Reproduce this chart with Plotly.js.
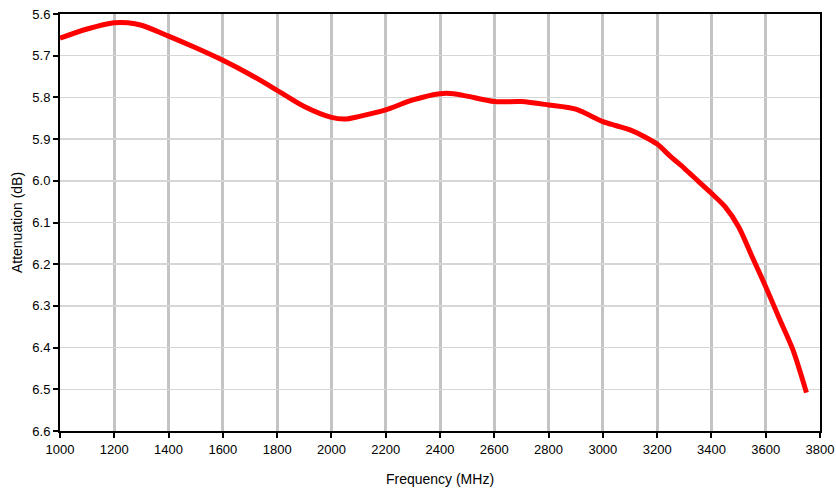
<!DOCTYPE html>
<html>
<head>
<meta charset="utf-8">
<script src="https://cdn.plot.ly/plotly-3.0.1.min.js"></script>
<style>html,body{margin:0;padding:0;background:#fff;}#chart{width:836px;height:493px;}</style>
</head>
<body>
<div id="chart"></div>
<script>
const frequency = [1000, 1100, 1200, 1250, 1300, 1400, 1500, 1600, 1700, 1800, 1900, 2000, 2050, 2100, 2200, 2300, 2400, 2450, 2500, 2600, 2700, 2800, 2900, 3000, 3050, 3100, 3150, 3200, 3250, 3300, 3350, 3400, 3450, 3500, 3550, 3600, 3650, 3700, 3750];
const attenuation = [5.658, 5.636, 5.621, 5.621, 5.627, 5.653, 5.681, 5.711, 5.745, 5.783, 5.822, 5.848, 5.852, 5.846, 5.830, 5.806, 5.791, 5.791, 5.797, 5.810, 5.810, 5.818, 5.828, 5.858, 5.868, 5.878, 5.893, 5.912, 5.942, 5.970, 6.000, 6.030, 6.062, 6.110, 6.182, 6.254, 6.330, 6.405, 6.508];
const xTicks = [1000, 1200, 1400, 1600, 1800, 2000, 2200, 2400, 2600, 2800, 3000, 3200, 3400, 3600, 3800];
const yTicks = [5.6, 5.7, 5.8, 5.9, 6.0, 6.1, 6.2, 6.3, 6.4, 6.5, 6.6];

const font = {family: '"Liberation Sans", Arial, sans-serif', size: 13, color: '#000'};

Plotly.newPlot('chart', [{
  x: frequency,
  y: attenuation,
  type: 'scatter',
  mode: 'lines',
  line: {color: '#ff0000', width: 5, shape: 'spline', smoothing: 0.8},
  hoverinfo: 'x+y'
}], {
  width: 836, height: 493,
  margin: {l: 60, r: 16, t: 14, b: 62},
  paper_bgcolor: '#fff', plot_bgcolor: '#fff',
  font: font,
  showlegend: false,
  xaxis: {
    range: [1000, 3800],
    tickvals: xTicks,
    ticktext: xTicks.map(String),
    showgrid: true, gridcolor: '#c4c4c4', gridwidth: 3,
    showline: true, linecolor: '#000', linewidth: 2, mirror: true,
    ticks: 'outside', ticklen: 5, tickcolor: '#000', tickwidth: 2,
    zeroline: false,
    tickfont: {family: font.family, size: 13, color: '#000'},
    title: {text: 'Frequency (MHz)', font: {family: font.family, size: 14, color: '#000'}, standoff: 19}
  },
  yaxis: {
    range: [6.6, 5.6],
    tickvals: yTicks,
    ticktext: yTicks.map(v => v.toFixed(1)),
    showgrid: true, gridcolor: '#d6d6d6', gridwidth: 1.5,
    showline: true, linecolor: '#000', linewidth: 2, mirror: true,
    ticks: 'outside', ticklen: 5, tickcolor: '#000', tickwidth: 2,
    zeroline: false,
    tickfont: {family: font.family, size: 13, color: '#000'},
    title: {text: 'Attenuation (dB)', font: {family: font.family, size: 14, color: '#000'}, standoff: 6}
  }
}, {displayModeBar: false, staticPlot: true});
</script>
</body>
</html>
